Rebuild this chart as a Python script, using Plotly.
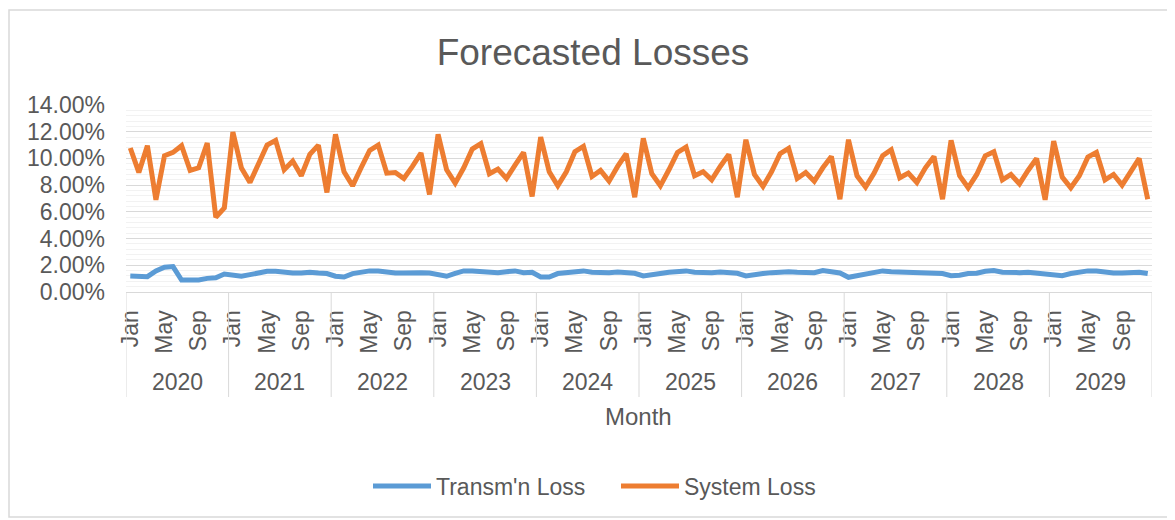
import plotly.graph_objects as go

# ---------------- data ----------------
years = ["2020", "2021", "2022", "2023", "2024", "2025", "2026", "2027", "2028", "2029"]
months = ["Jan", "Feb", "Mar", "Apr", "May", "Jun", "Jul", "Aug", "Sep", "Oct", "Nov", "Dec"]
shown_months = ["Jan", "May", "Sep"]

# Transmission loss (%), Jan 2020 .. Dec 2029
transm_loss = [
    1.20, 1.22, 1.15, 1.58, 1.85, 1.90, 0.90, 0.90, 0.90, 1.02, 1.07, 1.35,
    1.22, 1.18, 1.30, 1.45, 1.55, 1.55, 1.45, 1.42, 1.42, 1.48, 1.42, 1.38,
    1.18, 1.12, 1.38, 1.48, 1.58, 1.58, 1.49, 1.42, 1.42, 1.48, 1.45, 1.42,
    1.28, 1.18, 1.40, 1.58, 1.58, 1.52, 1.48, 1.45, 1.52, 1.58, 1.45, 1.48,
    1.12, 1.12, 1.38, 1.42, 1.48, 1.58, 1.48, 1.45, 1.45, 1.50, 1.45, 1.40,
    1.20, 1.25, 1.38, 1.48, 1.50, 1.58, 1.48, 1.45, 1.45, 1.50, 1.45, 1.40,
    1.20, 1.25, 1.38, 1.45, 1.50, 1.52, 1.48, 1.45, 1.45, 1.60, 1.48, 1.42,
    1.10, 1.22, 1.35, 1.45, 1.58, 1.52, 1.49, 1.42, 1.48, 1.45, 1.42, 1.38,
    1.22, 1.25, 1.38, 1.40, 1.55, 1.60, 1.48, 1.42, 1.45, 1.48, 1.42, 1.35,
    1.22, 1.22, 1.38, 1.50, 1.58, 1.58, 1.48, 1.42, 1.42, 1.45, 1.48, 1.38,
]

# System loss (%), Jan 2020 .. Dec 2029
system_loss = [
    10.78, 8.95, 10.95, 6.90, 10.20, 10.45, 10.95, 9.10, 9.30, 11.15, 5.60, 6.30,
    11.98, 9.28, 8.20, 9.65, 11.00, 11.35, 9.15, 9.80, 8.70, 10.30, 11.00, 7.45,
    11.80, 9.00, 7.95, 9.30, 10.60, 11.00, 8.90, 8.95, 8.50, 9.40, 10.40, 7.30,
    11.80, 9.15, 8.15, 9.30, 10.70, 11.10, 8.85, 9.20, 8.50, 9.50, 10.45, 7.15,
    11.60, 9.00, 7.95, 9.00, 10.50, 10.90, 8.65, 9.10, 8.30, 9.40, 10.35, 7.10,
    11.50, 8.85, 7.95, 9.15, 10.45, 10.85, 8.70, 9.00, 8.40, 9.40, 10.30, 7.10,
    11.40, 8.80, 7.90, 9.00, 10.35, 10.75, 8.50, 8.95, 8.30, 9.30, 10.15, 6.95,
    11.40, 8.70, 7.85, 8.90, 10.20, 10.65, 8.55, 8.90, 8.20, 9.30, 10.15, 6.95,
    11.35, 8.70, 7.80, 8.80, 10.20, 10.50, 8.40, 8.80, 8.10, 9.10, 10.00, 6.90,
    11.30, 8.60, 7.80, 8.70, 10.10, 10.45, 8.40, 8.80, 8.00, 9.00, 10.00, 6.95,
]

series_names = ["Transm'n Loss", "System Loss"]
series_colors = ["#5B9BD5", "#ED7D31"]

# ---------------- figure ----------------
OFF = 8  # page body margin; figure coords = screen coords - OFF
W, H = 1175 - OFF, 520 - OFF
L, T = 126 - OFF, 105 - OFF
R = W - (1152 - OFF)
B = H - (292 - OFF)
PW, PH = W - L - R, H - T - B

def px_x(sx):  # screen pixel -> paper x
    return (sx - OFF - L) / PW

def px_y(sy):  # screen pixel -> paper y
    return (H - B - (sy - OFF)) / PH

n = len(years) * len(months)
xs = list(range(n))
month_of = [months[i % 12] for i in xs]

FONT = "Liberation Sans, Arial, sans-serif"
GREY = "#595959"

fig = go.Figure()
for name, vals, col in zip(series_names, [transm_loss, system_loss], series_colors):
    fig.add_trace(go.Scatter(
        x=xs, y=[v / 100 for v in vals], mode="lines", name=name,
        line=dict(color=col, width=5, shape="linear"),
        hoverinfo="skip",
    ))

tickvals = [i for i in xs if month_of[i] in shown_months]
ticktext = [month_of[i] for i in tickvals]

fig.update_layout(
    width=W, height=H,
    margin=dict(l=L, r=R, t=T, b=B),
    paper_bgcolor="white", plot_bgcolor="white",
    font=dict(family=FONT, size=23, color=GREY),
    title=dict(text="Forecasted Losses", font=dict(family=FONT, size=37, color=GREY),
               x=(593 - OFF) / W, xref="container", xanchor="center",
               y=1 - (52 - OFF) / H, yref="container", yanchor="middle"),
    showlegend=True,
    legend=dict(orientation="h", x=px_x(368), xanchor="left",
                y=px_y(486), yanchor="middle",
                font=dict(family=FONT, size=23, color=GREY),
                itemwidth=58, entrywidth=175, entrywidthmode="pixels",
                tracegroupgap=0, bgcolor="rgba(0,0,0,0)"),
    xaxis=dict(
        range=[-0.5, n - 0.5], tickmode="array", tickvals=tickvals, ticktext=ticktext,
        tickangle=-90, ticks="", showgrid=False, zeroline=False,
        showline=True, linecolor="#D9D9D9", linewidth=1,
        tickfont=dict(family=FONT, size=23, color=GREY),
        ticklabelstandoff=8,
    ),
    yaxis=dict(
        range=[0, 0.14], dtick=0.02, tick0=0, tickformat=".2%",
        showgrid=True, gridcolor="#D9D9D9", gridwidth=1,
        zeroline=False, showline=False, ticks="",
        tickfont=dict(family=FONT, size=23, color=GREY),
        ticklabelstandoff=20,
        minor=dict(dtick=0.004, tick0=0, showgrid=True, gridcolor="#F2F2F2", gridwidth=1),
    ),
)

shapes = []
# year group separators
for k in range(len(years) + 1):
    shapes.append(dict(type="line", xref="x", yref="paper",
                       x0=12 * k - 0.5, x1=12 * k - 0.5, y0=0, y1=px_y(397),
                       line=dict(color="#D9D9D9", width=1)))
# outer chart border
shapes.append(dict(type="rect", xref="paper", yref="paper",
                   x0=px_x(9), x1=px_x(1180), y0=px_y(517), y1=px_y(10),
                   line=dict(color="#D9D9D9", width=1.5), fillcolor="rgba(0,0,0,0)",
                   layer="below"))
fig.update_layout(shapes=shapes)

annotations = []
for k, yr in enumerate(years):
    annotations.append(dict(text=yr, xref="x", yref="paper", x=12 * k + 5.5, y=px_y(382),
                            showarrow=False, xanchor="center", yanchor="middle",
                            font=dict(family=FONT, size=23, color=GREY)))
annotations.append(dict(text="Month", xref="paper", yref="paper", x=px_x(638), y=px_y(416),
                        showarrow=False, xanchor="center", yanchor="middle",
                        font=dict(family=FONT, size=24, color=GREY)))
fig.update_layout(annotations=annotations)

fig.write_html("out.html")
